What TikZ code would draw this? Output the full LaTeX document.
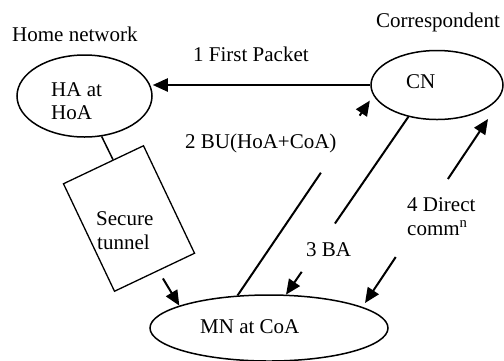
\documentclass[tikz,border=0pt]{standalone}
\usepackage{fontspec}
\setmainfont{Liberation Serif}
\usetikzlibrary{shapes.geometric,arrows.meta,calc}
\begin{document}
\begin{tikzpicture}[x=1bp,y=-1bp,
  every node/.style={inner sep=0pt},
  lbl/.style={anchor=base west, font=\fontsize{21bp}{23bp}\selectfont},
  oval/.style={draw, ellipse, line width=1.5bp},
  flow/.style={line width=2bp, -{Triangle[length=15bp,width=13bp]}},
  plain/.style={line width=2bp}]
\useasboundingbox (0,0) rectangle (504,360);

% hosts
\node[oval, minimum width=135bp, minimum height=82bp] (ha) at (84.5,96) {};
\node[oval, minimum width=132bp, minimum height=69bp] (cn) at (437,85) {};
\node[oval, minimum width=238bp, minimum height=66bp] (mn) at (269,328) {};
% tunnel box, tilted
\node[draw, line width=1.3bp, rotate=25.4, minimum width=88.6bp, minimum height=119bp] (tun) at (129,218.5) {};

% texts
\node[lbl] (t-home) at (12,41.5) {Home network};
\node[lbl] (t-corr) at (376,27) {Correspondent};
\node[lbl] (t-first) at (193,61.5) {1 First Packet};
\node[lbl] (t-cn) at (406,88) {CN};
\node[lbl] (t-ha1) at (51,96) {HA at};
\node[lbl] (t-ha2) at (51,119) {HoA};
\node[lbl] (t-bu) at (185,148) {2 BU(HoA+CoA)};
\node[lbl] (t-sec1) at (96,225) {Secure};
\node[lbl] (t-sec2) at (97,249) {tunnel};
\node[lbl] (t-ba) at (306,256.5) {3 BA};
\node[lbl] (t-dir1) at (407,211.5) {4 Direct};
\node[lbl] (t-dir2) at (407,235) {comm\textsuperscript{n}};
\node[lbl] (t-mn) at (200,333) {MN at CoA};

% 1: first packet
\draw[flow, line width=2.3bp] (cn.west) -- (cn.west -| ha.east);

% HA to tunnel, tunnel to MN
\draw[plain, line width=1.5bp] (ha.-67) -- ($(tun.north west)!0.62!(tun.north east)$);
\coordinate (tun-out) at ($(tun.south west)!0.6!(tun.south east)+(0,9.5)$);
\draw[flow] (tun-out) -- (mn.166);

% 2: binding update
\coordinate (bu-a) at (mn.134);
\coordinate (bu-b) at ($(cn.193)+(-6,1.5)$);
\draw[plain] (bu-a) -- ($(bu-a)!0.63!(bu-b)$);
\draw[flow] ($(bu-a)!0.923!(bu-b)$) -- (bu-b);

% 3: binding ack
\coordinate (ba-a) at (cn.228);
\coordinate (ba-b) at (mn.63);
\draw[plain] (ba-a) -- ($(ba-a)!0.6!(ba-b)$);
\draw[flow] ($(ba-a)!0.872!(ba-b)$) -- (ba-b);

% 4: direct communication
\coordinate (dc-a) at ($(mn.center)+(96,-25)$);
\coordinate (dc-b) at ($(cn.center)+(51,34)$);
\draw[flow] ($(dc-a)!0.25!(dc-b)$) -- (dc-a);
\draw[flow] ($(dc-a)!0.674!(dc-b)$) -- (dc-b);
\end{tikzpicture}
\end{document}
